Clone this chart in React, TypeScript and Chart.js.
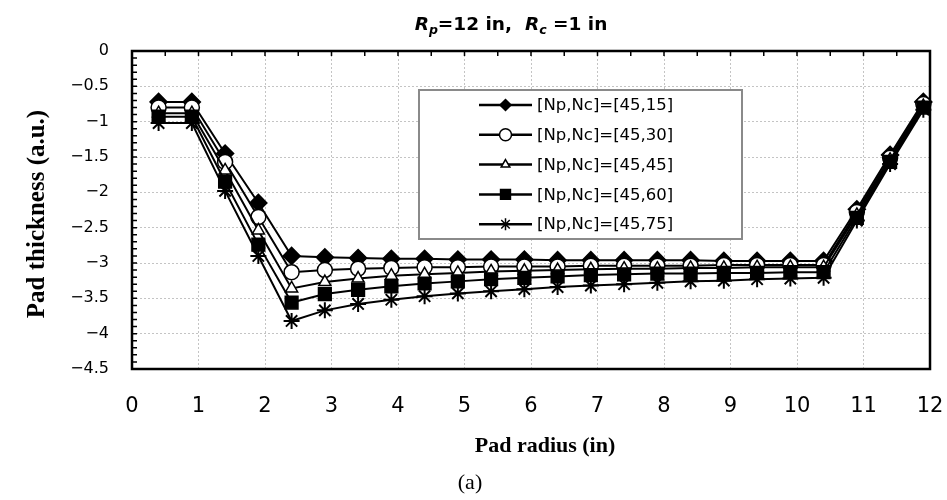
import { useEffect, useRef } from 'react';
import { Chart, registerables } from 'chart.js';

Chart.register(...registerables);

// Pad radius (in) of each sampled point
const padRadius = [0.4, 0.9, 1.4, 1.9, 2.4, 2.9, 3.4, 3.9, 4.4, 4.9, 5.4, 5.9, 6.4, 6.9, 7.4, 7.9, 8.4, 8.9, 9.4, 9.9, 10.4, 10.9, 11.4, 11.9];

// Pad thickness (a.u.) for each [Np, Nc] combination
const nc15 = [-0.72, -0.72, -1.45, -2.15, -2.9, -2.92, -2.93, -2.94, -2.94, -2.95, -2.95, -2.95, -2.96, -2.96, -2.96, -2.96, -2.96, -2.97, -2.97, -2.97, -2.97, -2.24, -1.47, -0.72];
const nc30 = [-0.8, -0.8, -1.57, -2.35, -3.13, -3.1, -3.08, -3.07, -3.06, -3.06, -3.05, -3.05, -3.05, -3.04, -3.04, -3.04, -3.04, -3.03, -3.03, -3.03, -3.03, -2.28, -1.51, -0.75];
const nc45 = [-0.88, -0.88, -1.69, -2.54, -3.36, -3.27, -3.22, -3.18, -3.16, -3.14, -3.12, -3.11, -3.1, -3.09, -3.08, -3.08, -3.07, -3.07, -3.06, -3.06, -3.06, -2.32, -1.54, -0.78];
const nc60 = [-0.93, -0.93, -1.85, -2.74, -3.56, -3.44, -3.38, -3.33, -3.29, -3.26, -3.23, -3.21, -3.19, -3.17, -3.16, -3.15, -3.15, -3.14, -3.14, -3.13, -3.13, -2.36, -1.57, -0.8];
const nc75 = [-1.02, -1.02, -1.98, -2.9, -3.82, -3.67, -3.58, -3.52, -3.47, -3.43, -3.4, -3.37, -3.34, -3.32, -3.3, -3.28, -3.26, -3.25, -3.23, -3.22, -3.21, -2.4, -1.6, -0.83];

const seriesValues = [nc15, nc30, nc45, nc60, nc75];
const seriesLabels = ['[Np,Nc]=[45,15]', '[Np,Nc]=[45,30]', '[Np,Nc]=[45,45]', '[Np,Nc]=[45,60]', '[Np,Nc]=[45,75]'];

// Axis ranges and tick spacing
const xMin = 0;
const xMax = 12;
const xStep = 1;
const yMin = -4.5;
const yMax = 0;
const yStep = 0.5;
const topTickStep = 0.5;
const leftTickStep = 0.1;

type MarkerStyle = 'rectRot' | 'circle' | 'triangle' | 'rect' | 'star';
const markerStyles: MarkerStyle[] = ['rectRot', 'circle', 'triangle', 'rect', 'star'];
const markerFills = ['#000000', '#ffffff', '#ffffff', '#000000', '#000000'];
const markerRadii = [8.5, 7.5, 7, 9, 8];
const legendRadii = [5.5, 6, 5, 7, 6];

const SANS = '"DejaVu Sans", sans-serif';
const SERIF = '"Liberation Serif", "Times New Roman", serif';

function drawMarker(ctx: CanvasRenderingContext2D, style: MarkerStyle, x: number, y: number, r: number, fill: string) {
  ctx.beginPath();
  if (style === 'rectRot') {
    ctx.moveTo(x, y - r);
    ctx.lineTo(x + r, y);
    ctx.lineTo(x, y + r);
    ctx.lineTo(x - r, y);
    ctx.closePath();
  } else if (style === 'circle') {
    ctx.arc(x, y, r, 0, Math.PI * 2);
  } else if (style === 'triangle') {
    const half = (r * Math.sqrt(3)) / 2;
    ctx.moveTo(x, y - r);
    ctx.lineTo(x + half, y + r / 2);
    ctx.lineTo(x - half, y + r / 2);
    ctx.closePath();
  } else if (style === 'rect') {
    const s = r * Math.SQRT1_2;
    ctx.rect(x - s, y - s, 2 * s, 2 * s);
  } else {
    const d = r * Math.SQRT1_2;
    ctx.moveTo(x, y - r); ctx.lineTo(x, y + r);
    ctx.moveTo(x - r, y); ctx.lineTo(x + r, y);
    ctx.moveTo(x - d, y - d); ctx.lineTo(x + d, y + d);
    ctx.moveTo(x - d, y + d); ctx.lineTo(x + d, y - d);
    ctx.stroke();
    return;
  }
  ctx.fillStyle = fill;
  ctx.fill();
  ctx.stroke();
}

// Plot frame, half-inch ticks on the top edge and fine ticks on the left edge
const framePlugin = {
  id: 'frame',
  beforeDatasetsDraw(chart: any) {
    const { ctx, chartArea: a, scales } = chart;
    const xs = scales.x;
    const ys = scales.y;
    ctx.save();
    ctx.strokeStyle = '#000';
    ctx.lineWidth = 1.5;
    ctx.beginPath();
    const nTop = Math.round((xMax - xMin) / topTickStep);
    for (let k = 1; k < nTop; k++) {
      const px = xs.getPixelForValue(xMin + k * topTickStep);
      ctx.moveTo(px, a.top);
      ctx.lineTo(px, a.top + 5);
    }
    const nLeft = Math.round((yMax - yMin) / leftTickStep);
    for (let k = 1; k < nLeft; k++) {
      const py = ys.getPixelForValue(yMax - k * leftTickStep);
      ctx.moveTo(a.left, py);
      ctx.lineTo(a.left + 5, py);
    }
    ctx.stroke();
    ctx.lineWidth = 2.5;
    ctx.strokeRect(a.left, a.top, a.right - a.left, a.bottom - a.top);
    ctx.restore();
  },
};

// Boxed legend inside the plot area
const legendPlugin = {
  id: 'boxLegend',
  afterDatasetsDraw(chart: any) {
    const { ctx } = chart;
    const left = 419;
    const top = 90;
    const width = 323;
    const height = 149;
    ctx.save();
    ctx.fillStyle = '#ffffff';
    ctx.fillRect(left, top, width, height);
    ctx.strokeStyle = '#8a8a8a';
    ctx.lineWidth = 2;
    ctx.strokeRect(left, top, width, height);
    ctx.font = `16.5px ${SANS}`;
    ctx.textBaseline = 'middle';
    ctx.textAlign = 'left';
    seriesLabels.forEach((label, i) => {
      const y = 105 + i * 29.8;
      ctx.strokeStyle = '#000';
      ctx.lineWidth = 2.5;
      ctx.beginPath();
      ctx.moveTo(479, y);
      ctx.lineTo(532, y);
      ctx.stroke();
      ctx.lineWidth = 1.5;
      drawMarker(ctx, markerStyles[i], 505.5, y, legendRadii[i], markerFills[i]);
      ctx.fillStyle = '#000';
      ctx.fillText(label, 537, y + 1);
    });
    ctx.restore();
  },
};

// Chart title with subscripts, axis titles and the panel tag
const textPlugin = {
  id: 'texts',
  afterDraw(chart: any) {
    const { ctx } = chart;
    ctx.save();
    ctx.fillStyle = '#000';
    ctx.textBaseline = 'alphabetic';
    ctx.textAlign = 'left';

    const big = `bold 18.5px ${SANS}`;
    const bigIt = `italic bold 18.5px ${SANS}`;
    const subIt = `italic bold 12.5px ${SANS}`;
    const parts: { t: string; f: string; dy: number }[] = [
      { t: 'R', f: bigIt, dy: 0 },
      { t: 'p', f: subIt, dy: 4 },
      { t: '=12 in,  ', f: big, dy: 0 },
      { t: 'R', f: bigIt, dy: 0 },
      { t: 'c', f: subIt, dy: 4 },
      { t: ' =1 in', f: big, dy: 0 },
    ];
    let total = 0;
    parts.forEach((p) => {
      ctx.font = p.f;
      total += ctx.measureText(p.t).width;
    });
    let x = 511 - total / 2;
    const base = 30;
    parts.forEach((p) => {
      ctx.font = p.f;
      ctx.fillText(p.t, x, base + p.dy);
      x += ctx.measureText(p.t).width;
    });

    ctx.textAlign = 'center';
    ctx.font = `bold 22px ${SERIF}`;
    ctx.fillText('Pad radius (in)', 545, 452);

    ctx.font = `22px ${SERIF}`;
    ctx.fillText('(a)', 470, 489);

    ctx.translate(38, 214);
    ctx.rotate(-Math.PI / 2);
    ctx.textBaseline = 'middle';
    ctx.font = `bold 25px ${SERIF}`;
    ctx.fillText('Pad thickness (a.u.)', 0, 0);
    ctx.restore();
  },
};

function formatY(v: number) {
  const r = Number(v.toFixed(1));
  if (r === 0) return '0';
  return (r < 0 ? '\u2212' : '') + String(Math.abs(r));
}

export default function App() {
  const canvasRef = useRef<HTMLCanvasElement | null>(null);

  useEffect(() => {
    const canvas = canvasRef.current;
    if (!canvas) return;
    const datasets = seriesValues.map((vals, i) => ({
      label: seriesLabels[i],
      data: padRadius.map((x, j) => ({ x, y: vals[j] })),
      borderColor: '#000000',
      borderWidth: 2,
      backgroundColor: markerFills[i],
      pointStyle: markerStyles[i],
      pointRadius: markerRadii[i],
      pointBorderWidth: i === 4 ? 2 : 1.5,
      pointBorderColor: '#000000',
      pointBackgroundColor: markerFills[i],
      fill: false,
      tension: 0,
      clip: 12,
      order: seriesValues.length - 1 - i,
    }));

    const chart = new Chart(canvas, {
      type: 'line',
      data: { datasets },
      options: {
        animation: false,
        responsive: false,
        devicePixelRatio: 1,
        layout: { padding: { top: 51, right: 17, left: 0, bottom: 0 } },
        plugins: {
          legend: { display: false },
          title: { display: false },
          tooltip: { enabled: false },
        },
        scales: {
          x: {
            type: 'linear',
            min: xMin,
            max: xMax,
            afterFit: (s: any) => {
              s.height = 131;
              s.paddingLeft = 0;
              s.paddingRight = 0;
            },
            ticks: {
              stepSize: xStep,
              autoSkip: false,
              maxRotation: 0,
              padding: 25,
              color: '#000',
              font: { family: SANS, size: 21 },
            },
            grid: { color: '#c4c4c4', lineWidth: 1, drawTicks: false },
            border: { display: false, dash: [2, 2] },
          },
          y: {
            type: 'linear',
            min: yMin,
            max: yMax,
            afterFit: (s: any) => {
              s.width = 132;
              s.paddingTop = 0;
              s.paddingBottom = 0;
            },
            ticks: {
              stepSize: yStep,
              padding: 23,
              color: '#000',
              font: { family: SANS, size: 16 },
              callback: (v: any) => formatY(Number(v)),
            },
            grid: { color: '#c4c4c4', lineWidth: 1, drawTicks: false },
            border: { display: false, dash: [2, 2] },
          },
        },
      },
      plugins: [framePlugin, legendPlugin, textPlugin],
    } as any);

    return () => chart.destroy();
  }, []);

  return (
    <div style={{ position: 'absolute', left: 0, top: 0, width: 947, height: 500, background: '#fff' }}>
      <canvas ref={canvasRef} width={947} height={500} />
    </div>
  );
}
